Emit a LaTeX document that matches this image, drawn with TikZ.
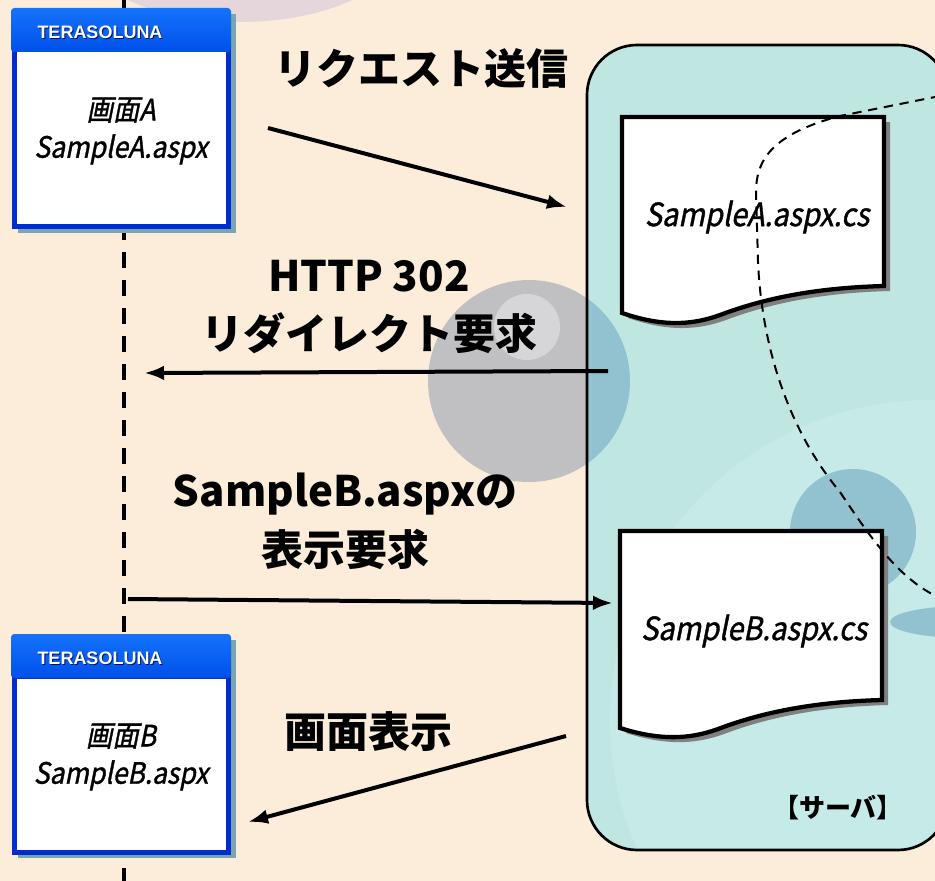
\documentclass[tikz,border=0pt]{standalone}
\usepackage{fontspec}
\usetikzlibrary{arrows.meta}
\newfontfamily\jp{Noto Sans CJK JP}
\newfontfamily\jpit[FakeSlant=0.2,FakeStretch=0.9,FakeBold=1.2]{Noto Sans CJK JP}
\newfontfamily\terafont{Liberation Sans}
\definecolor{bg}{RGB}{251,237,218}
\definecolor{lav}{RGB}{228,214,218}
\definecolor{sphere}{RGB}{192,192,194}
\definecolor{spherehl}{RGB}{214,214,216}
\definecolor{srv}{RGB}{192,230,226}
\definecolor{srvlight}{RGB}{197,234,232}
\definecolor{bluec}{RGB}{146,193,207}
\definecolor{docgray}{RGB}{128,128,128}
\definecolor{shadowT}{RGB}{120,165,175}
\definecolor{headT}{RGB}{20,115,250}
\definecolor{headB}{RGB}{0,80,235}
\definecolor{bodyB}{RGB}{0,45,210}
\definecolor{navy}{RGB}{0,20,90}
\begin{document}
\begin{tikzpicture}[x=0.75pt,y=-0.75pt,
  lifeline/.style={line width=2.3pt, dash pattern=on 12pt off 9pt},
  msg/.style={line width=3pt, -{Latex[length=15pt,width=11pt]}},
  lbl/.style={font=\jp\bfseries\fontsize{31.5}{44}\selectfont, align=center, inner sep=0pt},
  head/.style={top color=headT, bottom color=headB, rounded corners=2.5pt},
  body/.style={fill=white, draw=bodyB, line width=3.75pt},
  bshadow/.style={fill=shadowT},
  terastyle/.style={font=\terafont\bfseries\fontsize{13.5}{15}\selectfont, text=white, inner sep=0pt},
  terashadow/.style={terastyle, text=navy},
  scr/.style={font=\jpit\fontsize{22}{28}\selectfont, align=center, inner sep=0pt},
  docbox/.style={fill=white, draw=black, line width=3.2pt, line join=miter},
  docshadow/.style={fill=docgray},
  doctxt/.style={font=\jpit\fontsize{24}{28}\selectfont, inner sep=0pt},
  serverbox/.style={draw=black, line width=2pt, rounded corners=37.5pt},
  boundary/.style={line width=1.5pt, dash pattern=on 7pt off 5pt}
]
\useasboundingbox (0,0) rectangle (935,881);
% background
\fill[bg] (0,0) rectangle (935,881);
\fill[lav] (240,-60) ellipse (165 and 82);
\fill[sphere] (529,381) circle (101);
\fill[spherehl] (527,327) circle (33);
% server area
\fill[srv,rounded corners=37.5pt] (587,45) rectangle (948,850);
\begin{scope}
  \clip[rounded corners=37.5pt] (587,45) rectangle (948,850);
  \fill[srvlight] (930,720) circle (320);
  \fill[bluec] (529,381) circle (101);
  \fill[bluec] (853,532) circle (63);
  \fill[bluec] (965,622) ellipse (75 and 16);
\end{scope}
\draw[serverbox] (587,45) rectangle (948,850);
\node[font=\jp\bfseries\fontsize{19.5}{22}\selectfont, inner sep=0pt] (srvlbl) at (838,808) {【サーバ】};
% documents
\fill[docshadow] (628,122) -- (890,122) -- (890,291) .. controls (816,293) and (766,305) .. (726,320) .. controls (696,331) and (666,331) .. (628,318) -- cycle;
\draw[docbox] (622,117) -- (884,117) -- (884,286) .. controls (810,288) and (760,300) .. (720,315) .. controls (690,326) and (660,326) .. (622,313) -- cycle;
\node[doctxt] (docA) at (757,217) {SampleA.aspx.cs};
\fill[docshadow] (626,536) -- (888,536) -- (888,705) .. controls (814,707) and (764,719) .. (724,734) .. controls (694,745) and (664,745) .. (626,733) -- cycle;
\draw[docbox] (620,531) -- (882,531) -- (882,700) .. controls (808,702) and (758,714) .. (718,729) .. controls (688,740) and (658,740) .. (620,728) -- cycle;
\node[doctxt] (docB) at (754,631) {SampleB.aspx.cs};
% dashed boundary
\coordinate (bd1) at (940,96);
\coordinate (bd2) at (940,598);
\draw[boundary] (bd1) -- (840,116) .. controls (772,134) and (756,160) .. (756,192) -- (758,262) .. controls (762,350) and (790,432) .. (840,492) .. controls (872,540) and (900,580) .. (bd2);
% lifeline
\coordinate (lt) at (124,0);
\coordinate (lb) at (124,881);
\draw[lifeline] (lt) -- (lb);
% screen A
\fill[bshadow] (18,14) rectangle (236,233);
\draw[body] (14,50) rectangle (228,226);
\shade[head] (11,8) rectangle (231,52);
\node[terashadow] (teraAs) at (101,33) {TERASOLUNA};
\node[terastyle] (teraA) at (100,32) {TERASOLUNA};
\node[scr] (scrA) at (121,131) {画面A\\SampleA.aspx};
% screen B
\fill[bshadow] (18,640) rectangle (236,858);
\draw[body] (14,676) rectangle (228,852);
\shade[head] (11,634) rectangle (231,678);
\node[terashadow] (teraBs) at (101,659) {TERASOLUNA};
\node[terastyle] (teraB) at (100,658) {TERASOLUNA};
\node[scr] (scrB) at (121,757) {画面B\\SampleB.aspx};
% messages
\coordinate (m1s) at (268,128);
\coordinate (m1e) at (567,207);
\draw[msg] (m1s) -- (m1e);
\node[lbl] (l1) at (421,68) {リクエスト送信};
\coordinate (m2s) at (608,371);
\coordinate (m2e) at (144,373);
\draw[msg] (m2s) -- (m2e);
\node[lbl] (l2) at (369,307) {HTTP 302\\リダイレクト要求};
\coordinate (m3s) at (128,599);
\coordinate (m3e) at (613,603);
\draw[msg] (m3s) -- (m3e);
\node[lbl] (l3) at (345,521) {SampleB.aspxの\\表示要求};
\coordinate (m4s) at (566,736);
\coordinate (m4e) at (248,822);
\draw[msg] (m4s) -- (m4e);
\node[lbl] (l4) at (368,732) {画面表示};
\end{tikzpicture}
\end{document}
